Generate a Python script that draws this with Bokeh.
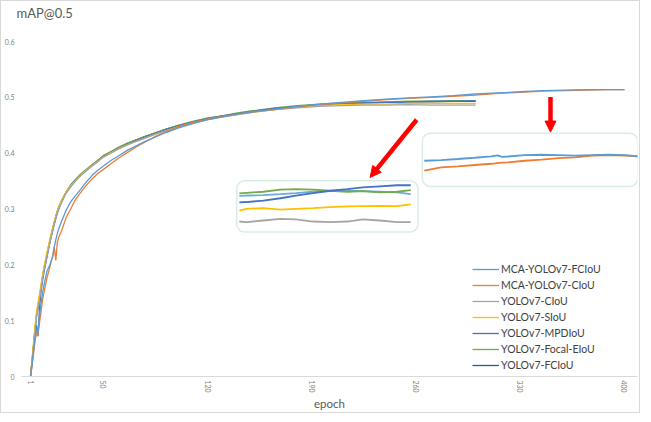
import math
from bokeh.plotting import figure
from bokeh.models import (Range1d, FixedTicker, Legend, LegendItem, BoxAnnotation,
                          Arrow, NormalHead)
from bokeh.embed import file_html
from bokeh.resources import INLINE

# ---------------- data ----------------
EPOCHS = [1, 2, 3, 4, 5, 6, 7, 8, 9, 10, 12, 14, 16, 17, 18, 19, 20, 22, 25, 28, 31, 34,
          38, 42, 46, 50, 55, 60, 66, 72, 78, 85, 92, 100, 110, 120, 130, 140, 150, 165,
          180, 195, 210, 225, 240, 255, 270, 285, 300]
EPOCHS_MCA = EPOCHS + [315, 330, 345, 360, 375, 390, 400]

MCA_FCIOU = [0.000, 0.020, 0.045, 0.068, 0.085, 0.078, 0.105, 0.130, 0.148, 0.163,
             0.188, 0.200, 0.215, 0.232, 0.245, 0.256, 0.265, 0.279, 0.298, 0.313,
             0.323, 0.333, 0.347, 0.359, 0.369, 0.377, 0.387, 0.395, 0.405, 0.413,
             0.421, 0.429, 0.437, 0.445, 0.453, 0.460, 0.465, 0.470, 0.474, 0.479,
             0.484, 0.488, 0.491, 0.494, 0.497, 0.499, 0.501, 0.503, 0.506,
             0.508, 0.510, 0.512, 0.513, 0.514, 0.514, 0.514]
MCA_CIOU = [0.000, 0.018, 0.040, 0.062, 0.078, 0.074, 0.095, 0.115, 0.135, 0.150,
            0.176, 0.196, 0.218, 0.232, 0.208, 0.240, 0.250, 0.262, 0.285, 0.300,
            0.316, 0.327, 0.341, 0.353, 0.363, 0.371, 0.381, 0.391, 0.401, 0.411,
            0.420, 0.430, 0.438, 0.447, 0.455, 0.461, 0.466, 0.470, 0.474, 0.478,
            0.483, 0.487, 0.490, 0.493, 0.496, 0.498, 0.500, 0.502, 0.504,
            0.507, 0.509, 0.511, 0.512, 0.513, 0.514, 0.514]
Y7_CIOU = [0.000, 0.025, 0.052, 0.080, 0.105, 0.122, 0.137, 0.155, 0.173, 0.189,
           0.215, 0.240, 0.263, 0.274, 0.284, 0.293, 0.301, 0.313, 0.329, 0.340,
           0.349, 0.358, 0.367, 0.376, 0.384, 0.393, 0.400, 0.407, 0.415, 0.421,
           0.427, 0.434, 0.440, 0.447, 0.454, 0.460, 0.465, 0.469, 0.473, 0.478,
           0.481, 0.484, 0.485, 0.486, 0.486, 0.487, 0.486, 0.486, 0.486]
Y7_SIOU = [0.000, 0.030, 0.060, 0.090, 0.115, 0.132, 0.146, 0.163, 0.180, 0.196,
           0.222, 0.246, 0.267, 0.278, 0.287, 0.296, 0.304, 0.316, 0.331, 0.342,
           0.350, 0.359, 0.368, 0.377, 0.385, 0.393, 0.401, 0.408, 0.415, 0.421,
           0.427, 0.434, 0.440, 0.447, 0.454, 0.460, 0.465, 0.469, 0.473, 0.478,
           0.482, 0.485, 0.487, 0.488, 0.488, 0.489, 0.489, 0.489, 0.489]
Y7_MPDIOU = [0.000, 0.024, 0.050, 0.078, 0.092, 0.072, 0.120, 0.150, 0.170, 0.186,
             0.213, 0.240, 0.262, 0.273, 0.283, 0.292, 0.300, 0.313, 0.329, 0.340,
             0.350, 0.359, 0.368, 0.377, 0.386, 0.394, 0.402, 0.409, 0.416, 0.423,
             0.429, 0.436, 0.442, 0.449, 0.456, 0.462, 0.467, 0.471, 0.475, 0.480,
             0.484, 0.487, 0.489, 0.490, 0.491, 0.492, 0.493, 0.493, 0.494]
Y7_FOCAL_EIOU = [0.000, 0.027, 0.055, 0.083, 0.110, 0.127, 0.142, 0.160, 0.177, 0.193,
                 0.218, 0.243, 0.266, 0.277, 0.286, 0.295, 0.304, 0.315, 0.331, 0.342,
                 0.351, 0.361, 0.370, 0.379, 0.387, 0.396, 0.403, 0.410, 0.418, 0.424,
                 0.430, 0.437, 0.443, 0.450, 0.457, 0.463, 0.467, 0.472, 0.476, 0.481,
                 0.485, 0.488, 0.490, 0.491, 0.492, 0.493, 0.493, 0.494, 0.494]
Y7_FCIOU = [0.000, 0.026, 0.054, 0.082, 0.108, 0.122, 0.140, 0.158, 0.176, 0.192,
            0.217, 0.242, 0.266, 0.274, 0.287, 0.296, 0.303, 0.316, 0.331, 0.343,
            0.352, 0.360, 0.369, 0.378, 0.386, 0.395, 0.401, 0.410, 0.417, 0.424,
            0.430, 0.436, 0.443, 0.449, 0.456, 0.462, 0.467, 0.471, 0.475, 0.480,
            0.484, 0.487, 0.489, 0.490, 0.491, 0.492, 0.492, 0.493, 0.493]

# zoomed inset 1 (baseline models, late epochs)
INSET1_EPOCHS = [200, 204, 214, 224, 233, 243, 253, 263, 272, 282, 292, 300]
INSET1_GREEN = [0.4913, 0.4915, 0.4918, 0.4924, 0.4926, 0.4924, 0.4921, 0.4918, 0.4920, 0.4916, 0.4918, 0.4923]
INSET1_LIGHTBLUE = [0.4906, 0.4907, 0.4908, 0.4911, 0.4914, 0.4918, 0.4920, 0.4921, 0.4920, 0.4918, 0.4916, 0.4911]
INSET1_BLUE = [0.4887, 0.4888, 0.4892, 0.4899, 0.4907, 0.4914, 0.4921, 0.4926, 0.4931, 0.4934, 0.4937, 0.4937]
INSET1_YELLOW = [0.4863, 0.4868, 0.4870, 0.4866, 0.4868, 0.4870, 0.4873, 0.4875, 0.4876, 0.4877, 0.4876, 0.4881]
INSET1_GRAY = [0.4831, 0.4829, 0.4834, 0.4839, 0.4837, 0.4831, 0.4829, 0.4831, 0.4837, 0.4834, 0.4829, 0.4829]

# zoomed inset 2 (MCA models, late epochs)
INSET2_EPOCHS = [260, 271, 282, 293, 304, 308, 311, 315, 326, 337, 348, 359, 370, 381, 392, 400]
INSET2_LIGHTBLUE = [0.5095, 0.5099, 0.5105, 0.5112, 0.5120, 0.5125, 0.5117, 0.5119, 0.5127, 0.5129,
                    0.5127, 0.5124, 0.5127, 0.5129, 0.5127, 0.5120]
INSET2_ORANGE = [0.5039, 0.5058, 0.5063, 0.5071, 0.5078, 0.5082, 0.5084, 0.5086, 0.5095, 0.5101,
                 0.5110, 0.5114, 0.5124, 0.5127, 0.5124, 0.5120]

X_TICKS = [1, 50, 120, 190, 260, 330, 400]
Y_TICKS = [0, 0.1, 0.2, 0.3, 0.4, 0.5, 0.6]
Y_LABELS = ["0", "0.1", "0.2", "0.3", "0.4", "0.5", "0.6"]

SERIES = [
    ("MCA-YOLOv7-FCIoU", EPOCHS_MCA, MCA_FCIOU, "#5B9BD5"),
    ("MCA-YOLOv7-CIoU", EPOCHS_MCA, MCA_CIOU, "#ED7D31"),
    ("YOLOv7-CIoU", EPOCHS, Y7_CIOU, "#A5A5A5"),
    ("YOLOv7-SIoU", EPOCHS, Y7_SIOU, "#FFC000"),
    ("YOLOv7-MPDIoU", EPOCHS, Y7_MPDIOU, "#4472C4"),
    ("YOLOv7-Focal-EIoU", EPOCHS, Y7_FOCAL_EIOU, "#70AD47"),
    ("YOLOv7-FCIoU", EPOCHS, Y7_FCIOU, "#255E91"),
]

# ---------------- layout ----------------
FONT = "Lato"
PX_PER_EPOCH = 1.4887
PX_PER_UNIT = 558.3
FRAME_LEFT_PAGE = 21.5     # where the frame starts on the page
FRAME_TOP_PAGE = 23.0
EPOCH1_PAGE = 30.5
ZERO_PAGE = 377.3
FRAME_W = 616
FRAME_H = int(round(ZERO_PAGE - FRAME_TOP_PAGE))

XS = 1 - (EPOCH1_PAGE - FRAME_LEFT_PAGE) / PX_PER_EPOCH
XE = XS + FRAME_W / PX_PER_EPOCH
YS = 0.0
YE = FRAME_H / PX_PER_UNIT

p = figure(frame_width=FRAME_W, frame_height=FRAME_H, output_backend="svg", toolbar_location=None,
           x_range=Range1d(XS, XE), y_range=Range1d(YS, YE),
           min_border_left=0, min_border_right=2, min_border_top=0, min_border_bottom=0,
           title="mAP@0.5")
p.outline_line_color = None
p.xgrid.visible = False
p.ygrid.visible = False
p.styles = {"border": "1px solid #d9d9d9"}

p.title.text_font = FONT
p.title.text_font_size = "13px"
p.title.text_font_style = "normal"
p.title.text_color = "#595959"
p.title.align = "left"
p.title.offset = -5
p.title.standoff = 3

xa = p.xaxis[0]
xa.ticker = FixedTicker(ticks=X_TICKS)
xa.major_label_orientation = -math.pi / 2
xa.major_label_text_font = FONT
xa.major_label_text_font_size = "7px"
xa.major_label_text_color = "#7f7f7f"
xa.major_tick_line_color = None
xa.minor_tick_line_color = None
xa.major_tick_out = 0
xa.major_tick_in = 0
xa.minor_tick_out = 0
xa.minor_tick_in = 0
xa.axis_line_color = "#d9d9d9"
xa.major_label_standoff = 4
xa.axis_label = "epoch"
xa.axis_label_text_font = FONT
xa.axis_label_text_font_size = "11.5px"
xa.axis_label_text_font_style = "normal"
xa.axis_label_text_color = "#595959"
xa.axis_label_standoff = 1

ya = p.yaxis[0]
ya.ticker = FixedTicker(ticks=Y_TICKS)
ya.major_label_overrides = {t: l for t, l in zip(Y_TICKS, Y_LABELS)}
ya.major_label_text_font = FONT
ya.major_label_text_font_size = "7px"
ya.major_label_text_color = "#7f7f7f"
ya.major_tick_line_color = None
ya.minor_tick_line_color = None
ya.major_tick_out = 0
ya.major_tick_in = 0
ya.minor_tick_out = 0
ya.minor_tick_in = 0
ya.axis_line_color = None
ya.major_label_standoff = 7

items = {}
for name, xs, ys, col in SERIES[::-1]:
    r = p.line(xs, ys, line_color=col, line_width=1.3)
    items[name] = r
legend = Legend(items=[LegendItem(label=n, renderers=[items[n]]) for n, _, _, _ in SERIES],
                location=(451, 3), glyph_width=27, glyph_height=16, label_height=16,
                spacing=0, padding=0, margin=0, label_standoff=2,
                border_line_color=None, background_fill_alpha=0,
                label_text_font=FONT, label_text_font_size="10.5px", label_text_color="#404040")
p.add_layout(legend, "center")


def extra_range(e0, e1, m0, m1, s, e):
    k = (e1 - e0) / (m1 - m0)
    return Range1d(e0 + (s - m0) * k, e0 + (e - m0) * k)


BOX_COLOR = "#80c4a6"
# inset boxes (main data coordinates)
BOX1 = dict(left=139.5, right=261.3, bottom=0.2586, top=0.3505)
BOX2 = dict(left=264.2, right=408.9, bottom=0.3405, top=0.4355)
for b in (BOX1, BOX2):
    p.add_layout(BoxAnnotation(**b, fill_color="white", fill_alpha=1, line_color=BOX_COLOR,
                               line_width=1.5, border_radius=8, level="underlay"))

p.extra_x_ranges = {
    "i1x": extra_range(200, 300, 141.3, 256.4, XS, XE),
    "i2x": extra_range(260, 400, 265.5, 408.9, XS, XE),
}
p.extra_y_ranges = {
    "i1y": extra_range(0.480, 0.495, 0.2586, 0.3505, YS, YE),
    "i2y": extra_range(0.495, 0.525, 0.3405, 0.4355, YS, YE),
}
for ys, col in [(INSET1_GRAY, "#A5A5A5"), (INSET1_YELLOW, "#FFC000"), (INSET1_LIGHTBLUE, "#6FA8DC"),
                (INSET1_GREEN, "#70AD47"), (INSET1_BLUE, "#4472C4")]:
    p.line(INSET1_EPOCHS, ys, line_color=col, line_width=1.8, x_range_name="i1x", y_range_name="i1y")
for ys, col in [(INSET2_ORANGE, "#ED7D31"), (INSET2_LIGHTBLUE, "#5B9BD5")]:
    p.line(INSET2_EPOCHS, ys, line_color=col, line_width=1.8, x_range_name="i2x", y_range_name="i2y")

# red arrows
ARROWS = [(260.4, 0.4599, 229.1, 0.3566), (350.3, 0.5005, 350.3, 0.4378)]
for x0, y0, x1, y1 in ARROWS:
    p.add_layout(Arrow(end=NormalHead(size=11, fill_color="#ff0000", line_color="#ff0000"),
                       x_start=x0, y_start=y0, x_end=x1, y_end=y1,
                       line_color="#ff0000", line_width=4.5))

open("out.html", "w").write(file_html(p, INLINE))
